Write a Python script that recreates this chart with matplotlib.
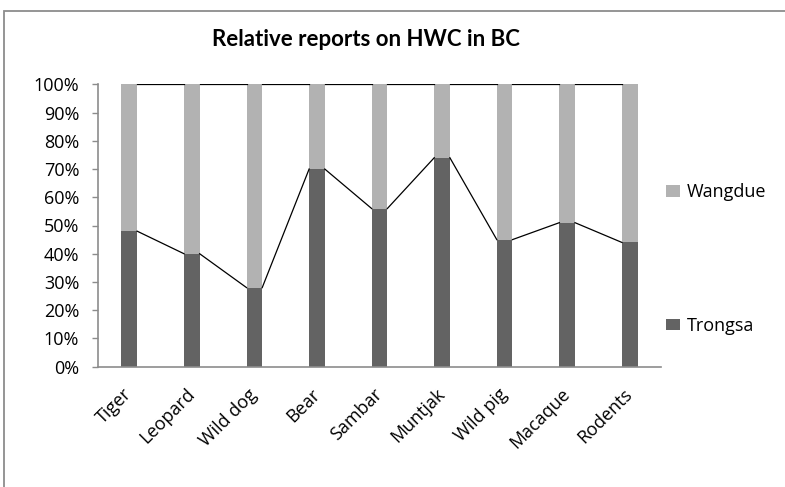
import numpy as np
import matplotlib.pyplot as plt
from matplotlib.patches import Rectangle

animals = ["Tiger", "Leopard", "Wild dog", "Bear", "Sambar", "Muntjak", "Wild pig", "Macaque", "Rodents"]
trongsa = [48, 40, 28, 70, 56, 74, 45, 51, 44]
wangdue = [100 - t for t in trongsa]

plt.rcParams['font.family'] = ['Open Sans', 'DejaVu Sans']

dark = '#636363'
light = '#b2b2b2'
axis_grey = '#8c8c8c'
barWidth = 0.25
fs = 13

fig = plt.figure(figsize=(7.85, 4.87), dpi=100)
ax = fig.add_axes([98/785, 1 - 366.7/487, (661 - 98)/785, (366.7 - 84.3)/487])

x = np.arange(len(animals))
tr = np.array(trongsa, dtype=float)
wa = np.array(wangdue, dtype=float)
ax.bar(x, tr, width=barWidth, color=dark, label='Trongsa', zorder=2)
ax.bar(x, wa, width=barWidth, bottom=tr, color=light, label='Wangdue', zorder=2)

# series lines between the stacked tops
for tops in (tr, tr + wa):
    for i in range(len(x) - 1):
        ax.plot([x[i] + barWidth/2, x[i+1] - barWidth/2], [tops[i], tops[i+1]],
                color='black', lw=0.9, zorder=3)

ax.set_xlim(-0.5, len(x) - 0.5)
ax.set_ylim(0, 100)
ax.set_yticks(np.arange(0, 101, 10))
ax.set_yticklabels([f"{v}%" for v in range(0, 101, 10)])
ax.set_xticks(x)
ax.set_xticklabels(animals, rotation=45, ha='right', va='center', rotation_mode='anchor')
ax.tick_params(axis='y', length=4.5, width=1, color=axis_grey, pad=9, labelsize=fs)
ax.tick_params(axis='x', length=0, pad=18, labelsize=fs)
for s in ('top', 'right'):
    ax.spines[s].set_visible(False)
for s in ('left', 'bottom'):
    ax.spines[s].set_color(axis_grey)
    ax.spines[s].set_linewidth(1.2)

fig.text(366/785, 1 - 40/487, "Relative reports on HWC in BC", ha='center', va='center',
         fontsize=16, fontweight='bold', family=['Lato', 'DejaVu Sans'])

h, l = ax.get_legend_handles_labels()
fig.legend(h[::-1], l[::-1], loc='center left', bbox_to_anchor=(666/785, 1 - 259/487),
           frameon=False, fontsize=fs, handlelength=0.8, handleheight=0.6,
           handletextpad=0.35, labelspacing=6.4, borderpad=0, borderaxespad=0)

# chart area border (only top and left are inside the picture)
fig.patches.append(Rectangle((4/785, -0.1), 1.1, 1 - 11/487 + 0.1, transform=fig.transFigure,
                             fill=False, edgecolor=axis_grey, lw=1.3))

plt.savefig("out.png", dpi=100)
